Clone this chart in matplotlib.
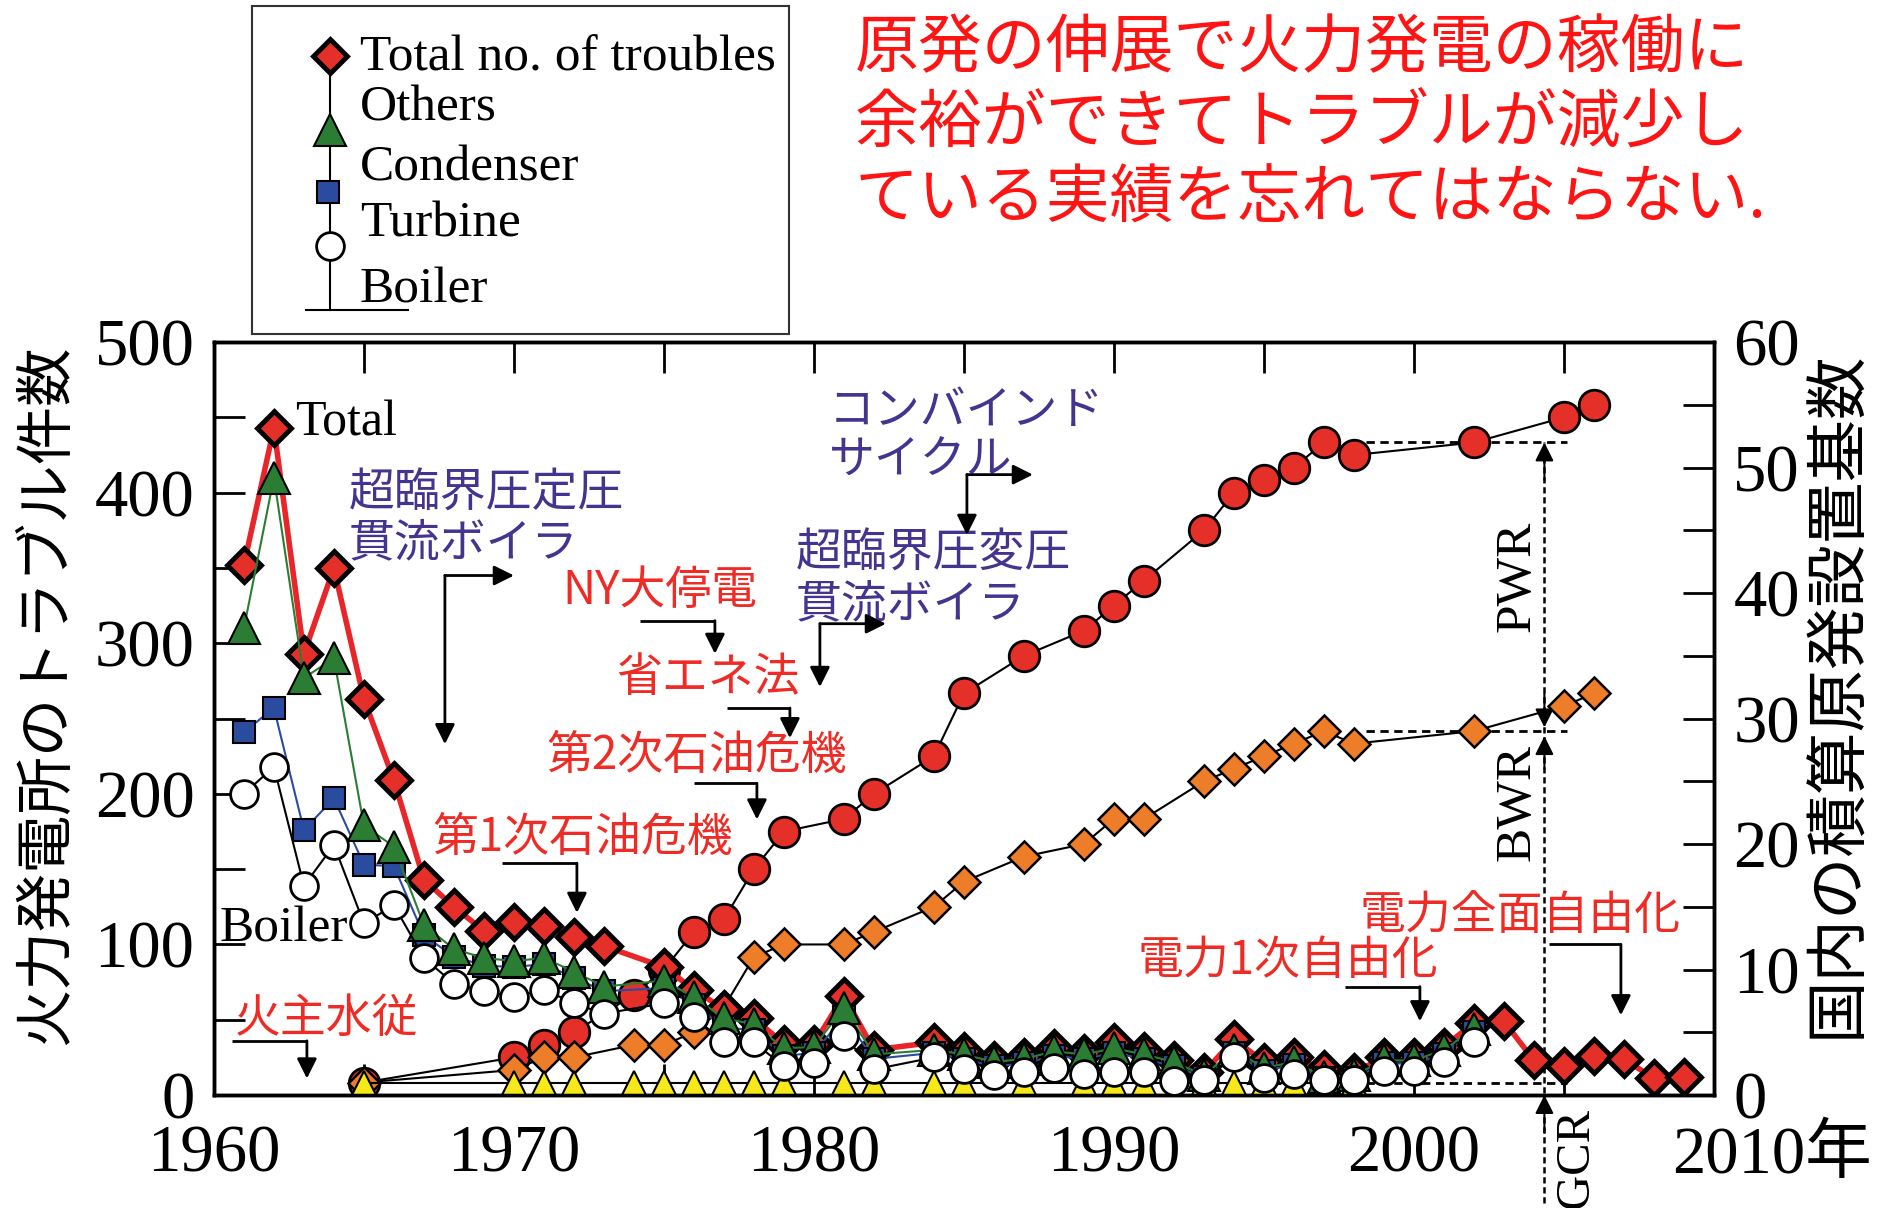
import numpy as np
import matplotlib.pyplot as plt

SERIF = ['Liberation Serif', 'Noto Sans CJK JP']
JP = ['Noto Sans CJK JP', 'DejaVu Sans']
plt.rcParams['font.family'] = SERIF

# --- thermal plant troubles (stacked: boiler, +turbine, +condenser, +others = total)
years_total = [1961, 1962, 1963, 1964, 1965, 1966, 1967, 1968, 1969, 1970, 1971, 1972, 1973,
               1975, 1976, 1977, 1978, 1979, 1980, 1981, 1982, 1984, 1985, 1986, 1987, 1988,
               1989, 1990, 1991, 1992, 1993, 1994, 1995, 1996, 1997, 1998, 1999, 2000, 2001,
               2002, 2003, 2004, 2005, 2006, 2007, 2008, 2009]
total = [352, 443, 293, 350, 263, 209, 143, 125, 109, 115, 112, 105, 99,
         85, 70, 57, 51, 34, 34, 66, 30, 35, 29, 23, 25, 31,
         28, 35, 29, 23, 15, 37, 22, 25, 17, 15, 25, 25, 32,
         48, 49, 23, 19, 26, 24, 11, 12]

years_parts = [1961, 1962, 1963, 1964, 1965, 1966, 1967, 1968, 1969, 1970, 1971, 1972, 1973,
               1975, 1976, 1977, 1978, 1979, 1980, 1981, 1982, 1984, 1985, 1986, 1987, 1988,
               1989, 1990, 1991, 1992, 1993, 1994, 1995, 1996, 1997, 1998, 1999, 2000, 2001,
               2002]
condenser_cum = [310, 410, 277, 290, 179, 165, 113, 97, 91, 89, 91, 82, 72,
                 76, 65, 51, 47, 31, 32, 58, 27, 30, 27, 22, 24, 29,
                 27, 31, 27, 22, 13, 30, 18, 22, 12, 13, 23, 23, 30,
                 44]
turbine_cum = [241, 257, 176, 197, 153, 152, 106, 92, 86, 85, 87, 78, 69,
               71, 60, 45, 43, 26, 28, 52, 24, 28, 24, 19, 21, 26,
               24, 28, 24, 19, 12, 28, 16, 20, 11, 11, 21, 21, 27,
               42]
boiler = [200, 218, 139, 166, 114, 126, 91, 74, 69, 65, 70, 61, 54,
          61, 52, 35, 35, 19, 21, 39, 17, 25, 17, 13, 15, 18,
          14, 15, 15, 9, 10, 25, 11, 14, 10, 10, 16, 16, 22,
          35]

# --- cumulative nuclear units in Japan
years_nuc = [1965, 1970, 1971, 1972, 1974, 1975, 1976, 1977, 1978, 1979, 1981, 1982, 1984,
             1985, 1987, 1989, 1990, 1991, 1993, 1994, 1995, 1996, 1997, 1998, 2002, 2005, 2006]
nuc_all = [1, 3, 4, 5, 8, 10, 13, 14, 18, 21, 22, 24, 27,
           32, 35, 37, 39, 41, 45, 48, 49, 50, 52, 51, 52, 54, 55]
nuc_bwr_gcr = [1, 2, 3, 3, 4, 4, 5, 7, 11, 12, 12, 13, 15,
               17, 19, 20, 22, 22, 25, 26, 27, 28, 29, 28, 29, 31, 32]
years_gcr = [1965, 1970, 1971, 1972, 1974, 1975, 1976, 1977, 1978, 1979, 1981, 1982, 1984,
             1985, 1987, 1989, 1990, 1991, 1993, 1994, 1995, 1996, 1997, 1998]
nuc_gcr = [1, 1, 1, 1, 1, 1, 1, 1, 1, 1, 1, 1, 1,
           1, 1, 1, 1, 1, 1, 1, 1, 1, 1, 1]

# reference levels for PWR / BWR / GCR bracket
ref_levels = [52, 29, 1]
ref_x0, ref_x1, ref_xv = 1998.4, 2005.1, 2004.35

RED = '#e5302a'
PURPLE = '#43358f'
ARED = '#ee2b25'


def main():
    fig = plt.figure(figsize=(18.83, 12.08), dpi=100)
    ax_n = fig.add_axes([0.1136, 0.0935, 0.7966, 0.6233])
    ax_t = ax_n.twinx()

    # nuclear (behind)
    ax_n.plot(years_nuc, nuc_all, '-', color='k', lw=1.5, marker='o', ms=22,
              mfc=RED, mec='k', mew=2, zorder=3)
    ax_n.plot(years_nuc, nuc_bwr_gcr, '-', color='k', lw=1.5, marker='D', ms=16,
              mfc='#ee7d2a', mec='k', mew=1.8, zorder=4)
    ax_n.plot(years_gcr, nuc_gcr, '-', color='k', lw=1.5, marker='^', ms=17,
              mfc='#f6e81a', mec='k', mew=1.5, zorder=5)
    for lv in ref_levels:
        ax_n.plot([ref_x0, ref_x1], [lv, lv], color='k', lw=2, ls=(0, (3, 2)), zorder=2)
    ax_n.plot([ref_xv, ref_xv], [-8.6, ref_levels[0]], color='k', lw=1.8,
              ls=(0, (2.5, 1.5)), zorder=2, clip_on=False)
    hp = dict(arrowstyle='-|>', color='k', lw=1.5, mutation_scale=28, shrinkA=0, shrinkB=0)
    for tip, frm in [((ref_xv, 52), (ref_xv, 49)), ((ref_xv, 29.3), (ref_xv, 32)),
                     ((ref_xv, 28.6), (ref_xv, 26)), ((ref_xv, 0), (ref_xv, -3))]:
        ax_n.annotate('', xy=tip, xytext=frm, arrowprops=hp, annotation_clip=False)
    ax_n.text(2003.45, 41.3, 'PWR', rotation=90, ha='center', va='center', fontsize=37)
    ax_n.text(2003.45, 23.3, 'BWR', rotation=90, ha='center', va='center', fontsize=37)
    ax_n.text(2005.4, -5.0, 'GCR', rotation=90, ha='center', va='center', fontsize=35,
              clip_on=False)

    # troubles (front)
    ax_t.plot(years_total, total, '-', color='#e8262a', lw=4, marker='D', ms=17,
              mfc=RED, mec='k', mew=3.5, zorder=3)
    ax_t.plot(years_parts, turbine_cum, '-', color='#2b4c9e', lw=1.5, marker='s', ms=16,
              mfc='#2b4c9e', mec='k', mew=1.5, zorder=4)
    ax_t.plot(years_parts, condenser_cum, '-', color='#2a7d33', lw=1.5, marker='^', ms=23,
              mfc='#2a7d33', mec='k', mew=1.5, zorder=5)
    ax_t.plot(years_parts, boiler, '-', color='k', lw=1.5, marker='o', ms=20,
              mfc='white', mec='k', mew=2, zorder=6)

    ax_t.text(1962.7, 446, 'Total', ha='left', va='center', fontsize=36, zorder=7)
    ax_t.text(1960.2, 110, 'Boiler', ha='left', va='center', fontsize=37, zorder=7)

    # annotations
    notes = [
        ('超臨界圧定圧\n貫流ボイラ', 1964.5, 383, PURPLE),
        ('コンバインド\nサイクル', 1980.5, 438, PURPLE),
        ('超臨界圧変圧\n貫流ボイラ', 1979.4, 343, PURPLE),
        ('NY大停電', 1971.6, 335, ARED),
        ('省エネ法', 1973.4, 277, ARED),
        ('第2次石油危機', 1971.1, 225, ARED),
        ('第1次石油危機', 1967.3, 171, ARED),
        ('火主水従', 1960.7, 51, ARED),
        ('電力1次自由化', 1990.8, 89, ARED),
        ('電力全面自由化', 1998.2, 119, ARED),
    ]
    for txt, x, y, c in notes:
        ax_t.text(x, y, txt, color=c, ha='left', va='center', fontsize=33,
                  family=JP, linespacing=1.05, zorder=7)

    ap = dict(arrowstyle='-|>', color='k', lw=2, mutation_scale=30, shrinkA=0, shrinkB=0)
    # elbow arrows with a right head and a down head
    for xv, ytop, ybot, xr in [(1967.7, 345, 233, 1970.0), (1980.2, 313, 271, 1982.4),
                               (1985.1, 412, 372, 1987.3)]:
        ax_t.annotate('', xy=(xv, ybot), xytext=(xv, ytop), arrowprops=ap, zorder=7)
        ax_t.annotate('', xy=(xr, ytop), xytext=(xv, ytop), arrowprops=ap, zorder=7)
    # underline then down arrow
    for x0, x1, y0, y1 in [(1974.2, 1976.7, 315, 293), (1977.1, 1979.2, 257, 237),
                           (1976.0, 1978.1, 207, 183), (1969.6, 1972.1, 154, 121),
                           (1960.6, 1963.1, 36, 11), (1997.7, 2000.2, 72, 49),
                           (2004.5, 2006.9, 100, 53)]:
        ax_t.plot([x0, x1], [y0, y0], color='k', lw=2, zorder=7, solid_capstyle='butt')
        ax_t.annotate('', xy=(x1, y1), xytext=(x1, y0), arrowprops=ap, zorder=7)

    # axes
    ax_n.set_xlim(1960, 2010)
    ax_n.set_ylim(0, 60)
    ax_t.set_ylim(0, 500)
    ax_n.set_xticks(np.arange(1960, 2011, 5))
    ax_n.set_xticklabels(['1960', '', '1970', '', '1980', '', '1990', '', '2000', '', ''])
    ax_n.yaxis.tick_right()
    ax_n.set_yticks(np.arange(0, 61, 5))
    ax_n.set_yticklabels([str(v) if v % 10 == 0 else '' for v in range(0, 61, 5)])
    ax_t.yaxis.tick_left()
    ax_t.set_yticks(np.arange(0, 501, 50))
    ax_t.set_yticklabels([str(v) if v % 100 == 0 else '' for v in range(0, 501, 50)])
    ax_n.tick_params(axis='x', which='both', direction='in', top=True, length=22,
                     width=2, labelsize=48, pad=21)
    ax_n.tick_params(axis='y', direction='in', length=22, width=2, labelsize=48, pad=14)
    ax_t.tick_params(axis='y', direction='in', length=22, width=2, labelsize=48, pad=14)
    for a in (ax_n, ax_t):
        for s in a.spines.values():
            s.set_linewidth(2.5)
    ax_n.annotate('2010年', xy=(2010, 0), xycoords=('data', 'axes fraction'),
                  xytext=(-30, -22), textcoords='offset points', ha='left', va='top',
                  fontsize=48, family=SERIF)

    fig.text(0.0245, 0.425, '火力発電所のトラブル件数', rotation=90, ha='center',
             va='center', fontsize=42, family=JP)
    fig.text(0.9757, 0.425, '国内の積算原発設置基数', rotation=90, ha='center',
             va='center', fontsize=45, family=JP)

    fig.text(0.454, 0.987, '原発の伸展で火力発電の稼働に\n余裕ができてトラブルが減少し\n'
             'ている実績を忘れてはならない.', ha='left', va='top', fontsize=46,
             color='#ff1414', family=JP, linespacing=1.17)

    # stacked-style legend box
    lg = fig.add_axes([0.1338, 0.7235, 0.2852, 0.2715])
    lg.set_xlim(0, 537)
    lg.set_ylim(328, 0)
    lg.set_xticks([])
    lg.set_yticks([])
    for s in lg.spines.values():
        s.set_linewidth(1.5)
        s.set_color('#333333')
    lg.plot([78, 78], [50, 304], color='k', lw=1.5)
    lg.plot([54, 156], [304, 304], color='k', lw=1.5)
    lg.plot([78], [50], marker='D', ms=17, mfc=RED, mec='k', mew=3.5)
    lg.plot([78], [124], marker='^', ms=23, mfc='#2a7d33', mec='k', mew=1.5)
    lg.plot([76], [186], marker='s', ms=16, mfc='#2b4c9e', mec='k', mew=1.5)
    lg.plot([78], [240], marker='o', ms=20, mfc='white', mec='k', mew=2)
    for txt, y in [('Total no. of troubles', 52), ('Others', 102), ('Condenser', 162),
                   ('Turbine', 218), ('Boiler', 284)]:
        lg.text(108, y, txt, ha='left', va='center', fontsize=37)

    fig.savefig('out.png', dpi=100)


if __name__ == '__main__':
    main()
